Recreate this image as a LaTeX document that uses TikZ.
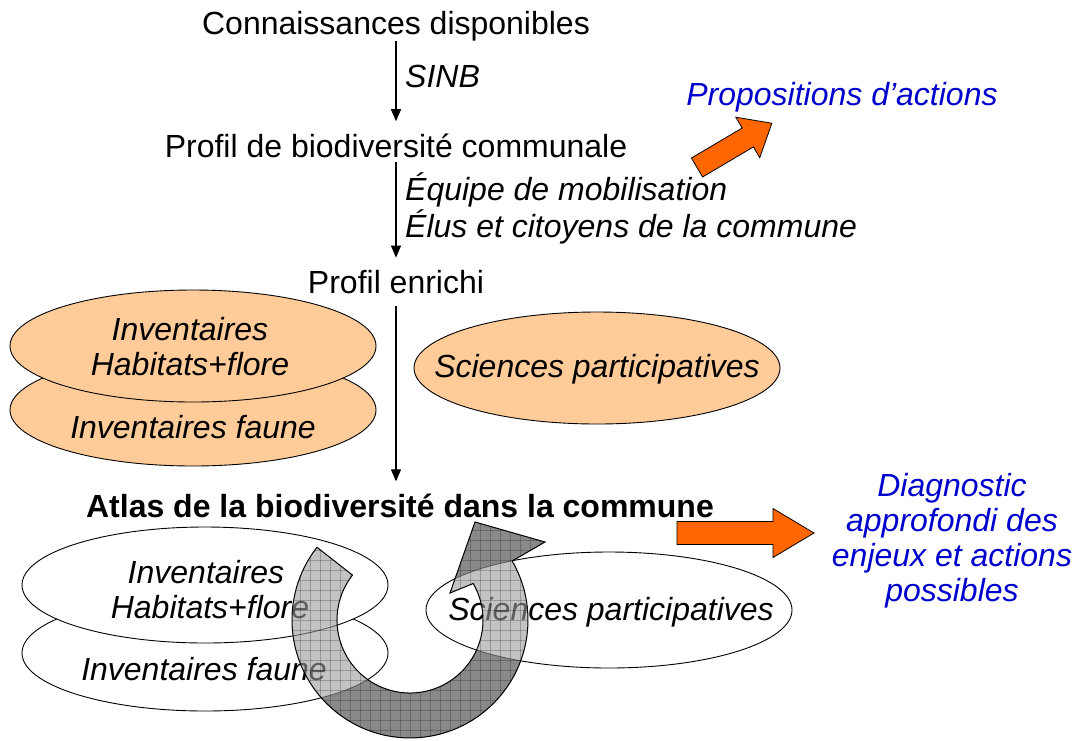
\documentclass[tikz,border=0pt]{standalone}
\usepackage{fontspec}
\setmainfont{Liberation Sans}
\usetikzlibrary{arrows.meta,shapes.geometric}
\definecolor{peach}{RGB}{255,204,153}
\definecolor{orangeC}{RGB}{255,102,0}
\definecolor{blueC}{RGB}{0,0,204}
\definecolor{darkG}{RGB}{112,112,112}
\definecolor{midG}{RGB}{155,155,155}
\newcommand\curvpath{(317.0,547.3) arc[start angle=218, end angle=-30, radius=118] -- (545,542) -- (475,522) -- (450,593) -- (473.2,583.5) arc[start angle=-30, end angle=218, radius=73] -- cycle}
\tikzset{
  basetxt/.style={inner sep=0pt, font=\fontsize{32}{35}\selectfont},
  ital/.style={inner sep=0pt, font=\fontsize{32}{35}\selectfont\itshape},
  boldtxt/.style={inner sep=0pt, font=\fontsize{32}{35}\selectfont\bfseries},
  bluetxt/.style={ital, text=blueC, align=center},
  orangeell/.style={ellipse, draw=black, line width=0.9pt, fill=peach, minimum width=366pt, minimum height=112pt, inner sep=0pt},
  whiteell/.style={ellipse, draw=black, line width=0.9pt, fill=white, minimum width=366pt, minimum height=116pt, inner sep=0pt},
  flow/.style={-{Triangle[width=10pt,length=12pt]}, line width=1.2pt, shorten >=12pt},
  blockarrow/.style={fill=orangeC, draw=black, line width=0.8pt, line join=miter},
  gridlines/.style={draw=black, draw opacity=0.22, line width=0.7pt}
}
\begin{document}
\begin{tikzpicture}[x=1pt,y=-1pt]
\useasboundingbox (0,0) rectangle (1084,740);
% main column
\node[basetxt, anchor=base] (c1) at (396,34) {Connaissances disponibles};
\node[basetxt, anchor=base] (p1) at (396,157) {Profil de biodiversité communale};
\node[basetxt, anchor=base] (p2) at (396,293) {Profil enrichi};
\node[boldtxt, anchor=base] (atlas) at (400,517) {Atlas de la biodiversité dans la commune};
\draw[flow] (c1.south) -- (p1.north);
\draw[flow, shorten <=4pt] (p1.south) -- (p2.north);
\draw[flow, shorten <=12pt] (p2.south) -- (p2.south |- atlas.north);
\node[ital, anchor=base west] (l1) at (405,87) {SINB};
\node[ital, anchor=base west] (l2) at (405,200) {Équipe de mobilisation};
\node[ital, anchor=base west] (l3) at (405,237) {Élus et citoyens de la commune};
% outputs
\node[bluetxt, anchor=base] (prop) at (842,105) {Propositions d’actions};
\node[bluetxt, anchor=north] (diag) at (952,473) {Diagnostic\\approfondi des\\enjeux et actions\\possibles};
\begin{scope}[shift={(697,167.5)}, rotate=30.6]
  \draw[blockarrow] (0,-11) -- (59,-11) -- (59,-23.5) -- (87,0) -- (59,23.5) -- (59,11) -- (0,11) -- cycle;
\end{scope}
\begin{scope}[shift={(677,533)}]
  \draw[blockarrow] (0,-11.5) -- (96,-11.5) -- (96,-24.5) -- (137,0) -- (96,24.5) -- (96,11.5) -- (0,11.5) -- cycle;
\end{scope}
% orange ellipses
\node[orangeell] (of) at (193,410) {};
\node[orangeell] (oh) at (193,346) {};
\node[orangeell] (os) at (597,368) {};
\node[ital, anchor=base] (toh1) at (190,340) {Inventaires};
\node[ital, anchor=base] (toh2) at (190,375) {Habitats+flore};
\node[ital, anchor=base] (tof) at (193,438) {Inventaires faune};
\node[ital, anchor=base] (tos) at (597,377) {Sciences participatives};
% curved arrow, dark underlay
\fill[darkG] \curvpath;
% white ellipses
\node[whiteell] (wf) at (205,653) {};
\node[whiteell] (wh) at (205,585) {};
\node[whiteell] (ws) at (609,610) {};
\node[ital, anchor=base] (twh1) at (206,583) {Inventaires};
\node[ital, anchor=base] (twh2) at (210,618) {Habitats+flore};
\node[ital, anchor=base] (twf) at (204,680) {Inventaires faune};
\node[ital, anchor=base] (tws) at (611,620) {Sciences participatives};
% curved arrow, translucent overlay
\fill[midG, fill opacity=0.6] \curvpath;
\begin{scope}
  \clip \curvpath;
  \foreach \gx in {280,290,...,560} {\draw[gridlines] (\gx,500) -- (\gx,745);}
  \foreach \gy in {500,510,...,745} {\draw[gridlines] (280,\gy) -- (560,\gy);}
\end{scope}
\draw[black, line width=1pt] \curvpath;
\end{tikzpicture}
\end{document}
